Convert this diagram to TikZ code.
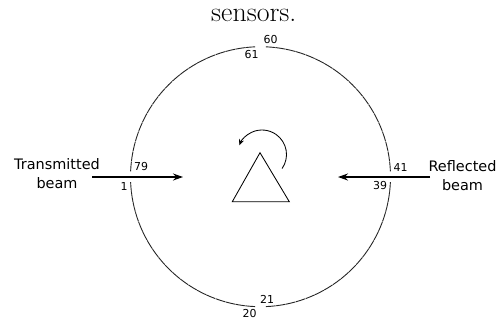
\documentclass[tikz,border=0pt]{standalone}
\usepackage{fontspec}
\newfontfamily\dejavu{DejaVu Sans}
\usetikzlibrary{arrows.meta}
\begin{document}
\begin{tikzpicture}[x=1bp,y=-1bp,
  ring/.style={line width=0.9bp, draw=black!85},
  lbl/.style={font=\dejavu\fontsize{14.5}{19}\selectfont, align=center, inner sep=0},
  num/.style={font=\dejavu\fontsize{11}{13}\selectfont, inner sep=0},
  beam/.style={line width=1.3bp, -{Stealth[length=10bp,width=7bp]}},
  rot/.style={line width=0.85bp, -{Stealth[length=6bp,width=5bp]}},
  prism/.style={line width=0.85bp, draw=black}]
\useasboundingbox (0,0) rectangle (498,320);
% caption fragment
\node[font=\fontsize{28}{30}\selectfont, anchor=base, inner sep=0] (cap) at (253.8,21.7) {sensors.};
% sensor ring
\coordinate (c) at (260.5,176.7);
\foreach \q in {0,20,40,60}{
  \foreach \k in {1,...,19}{
    \pgfmathsetmacro{\sa}{-(4.5*(\q+\k)-2.15)}
    \pgfmathsetmacro{\ea}{-(4.5*(\q+\k)+2.15)}
    \draw[ring] (c) ++(\sa:130) arc[start angle=\sa, end angle=\ea, radius=130];
  }
}
% sensor numbers
\node[num] (n60) at (270.5,39.5) {60};
\node[num] (n61) at (251.5,55) {61};
\node[num] (n79) at (141,167) {79};
\node[num] (n1) at (124,186) {1};
\node[num] (n41) at (400.5,167) {41};
\node[num] (n39) at (380,186) {39};
\node[num] (n21) at (267,299.5) {21};
\node[num] (n20) at (249.5,313) {20};
% beams
\node[lbl, anchor=north] (tr) at (57,158.5) {Transmitted\\beam};
\node[lbl, anchor=north] (rf) at (462.5,160.5) {Reflected\\beam};
\coordinate (tin) at (92,177);
\coordinate (tout) at (183,177);
\coordinate (rin) at (430,177);
\coordinate (rout) at (338,177);
\draw[beam] (tin) -- (tout);
\draw[beam] (rin) -- (rout);
% prism
\coordinate (pa) at (260,152.7);
\coordinate (pb) at (232.3,201.7);
\coordinate (pc) at (289.3,201.7);
\draw[prism] (pa) -- (pb) -- (pc) -- cycle;
% rotation arrow
\coordinate (rc) at (262,154.5);
\draw[rot] (rc) ++(35:24.5) arc[start angle=35, end angle=-158, radius=24.5];
\end{tikzpicture}
\end{document}
